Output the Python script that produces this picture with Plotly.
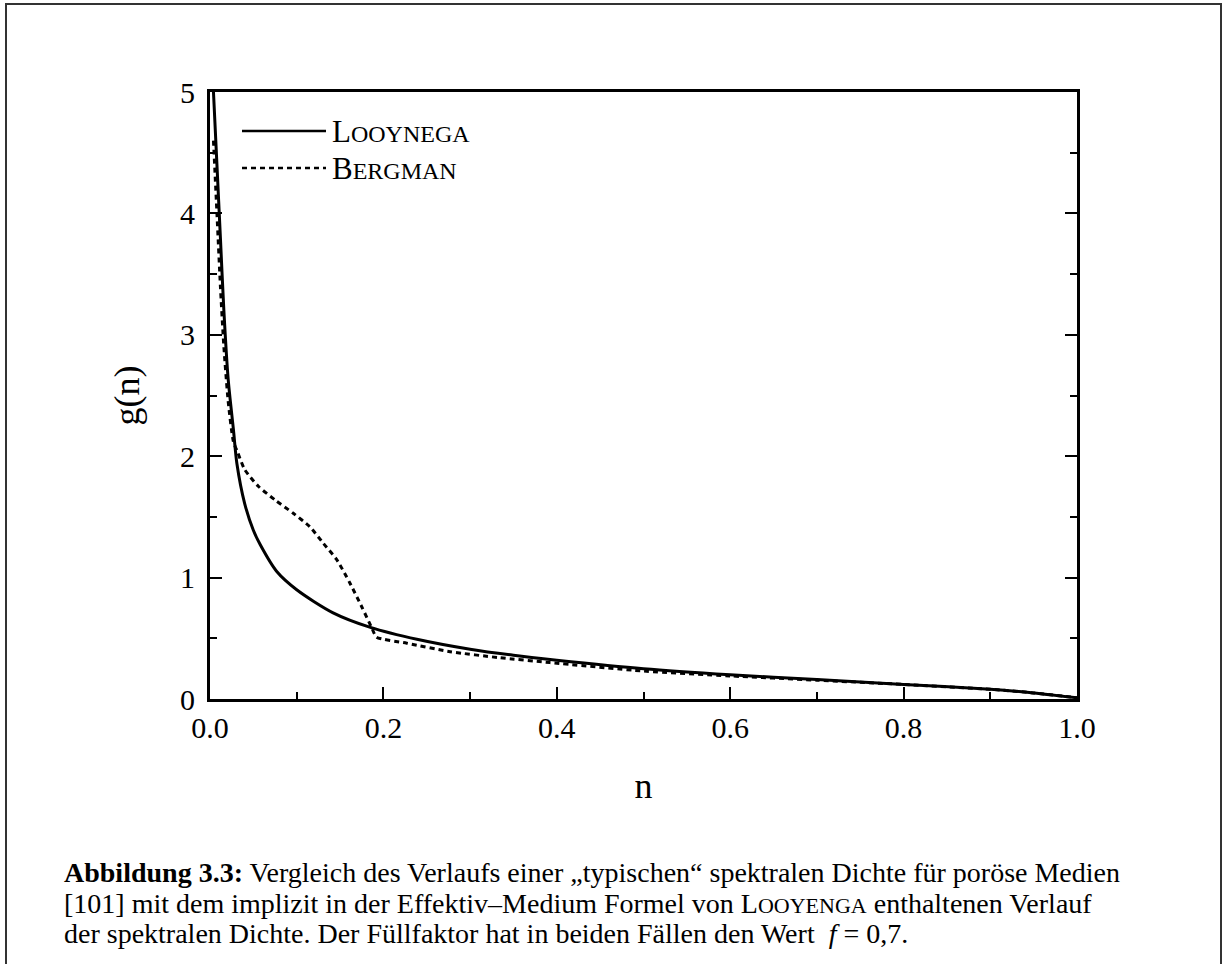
import plotly.graph_objects as go

# Data
n_looyenga = [0.004, 0.008, 0.012, 0.016, 0.021, 0.027, 0.031, 0.040, 0.050, 0.058,
              0.077, 0.100, 0.142, 0.185, 0.240, 0.300, 0.350, 0.400, 0.500, 0.600,
              0.700, 0.800, 0.900, 0.950, 1.000]
g_looyenga = [5.00, 4.40, 3.80, 3.20, 2.63, 2.22, 1.94, 1.61, 1.39, 1.27,
              1.05, 0.90, 0.71, 0.59, 0.49, 0.41, 0.36, 0.32, 0.25, 0.20,
              0.16, 0.12, 0.08, 0.05, 0.01]

n_bergman = [0.004, 0.008, 0.012, 0.016, 0.021, 0.027, 0.032, 0.040, 0.056, 0.075,
             0.096, 0.115, 0.131, 0.146, 0.161, 0.175, 0.187, 0.192, 0.227, 0.277,
             0.334, 0.392, 0.500, 0.600, 0.700, 0.800, 0.900, 0.950, 1.000]
g_bergman = [4.60, 4.00, 3.40, 2.90, 2.45, 2.12, 2.03, 1.89, 1.75, 1.64,
             1.53, 1.42, 1.28, 1.15, 0.96, 0.76, 0.58, 0.51, 0.46, 0.39,
             0.34, 0.30, 0.23, 0.19, 0.155, 0.12, 0.08, 0.05, 0.01]

x_ticks = [0.0, 0.2, 0.4, 0.6, 0.8, 1.0]
x_ticklabels = ["0.0", "0.2", "0.4", "0.6", "0.8", "1.0"]
y_ticks = [0, 1, 2, 3, 4, 5]
y_ticklabels = ["0", "1", "2", "3", "4", "5"]

legend_names = ["L<span style='font-size:24px'>OOYNEGA</span>",
                "B<span style='font-size:24px'>ERGMAN</span>"]

caption_lines = [
    "<b>Abbildung 3.3:</b> Vergleich des Verlaufs einer „typischen“ spektralen Dichte für poröse Medien",
    "[101] mit dem implizit in der Effektiv–Medium Formel von L<span style='font-size:22px'>OOYENGA</span> enthaltenen Verlauf",
    "der spektralen Dichte. Der Füllfaktor hat in beiden Fällen den Wert  <i>f</i> = 0,7.",
]

FONT = "Liberation Serif, Times New Roman, serif"
W, H = 1223, 964
ML, MR, MT, MB = 210, 146, 92, 265
PW, PH = W - ML - MR, H - MT - MB

def px2paper_x(px):
    return (px - ML) / PW

def px2paper_y(py):
    return (H - MB - py) / PH

fig = go.Figure()
fig.add_trace(go.Scatter(x=n_looyenga, y=g_looyenga, mode="lines",
                         line=dict(color="black", width=3, shape="spline", smoothing=0.8),
                         showlegend=False))
fig.add_trace(go.Scatter(x=n_bergman, y=g_bergman, mode="lines",
                         line=dict(color="black", width=3, dash="5px,4px", shape="spline", smoothing=0.6),
                         showlegend=False))

# manual legend
leg_rows = [(px2paper_y(131), "solid"), (px2paper_y(168), "5px,4px")]
for (yy, dash), name in zip(leg_rows, legend_names):
    fig.add_shape(type="line", xref="paper", yref="paper",
                  x0=px2paper_x(242), x1=px2paper_x(326), y0=yy, y1=yy,
                  line=dict(color="black", width=2.5, dash=dash))
    fig.add_annotation(xref="paper", yref="paper", x=px2paper_x(330), y=yy,
                       xanchor="left", yanchor="middle", showarrow=False,
                       text=name, font=dict(family=FONT, size=31, color="black"))

# outer frame
fig.add_shape(type="rect", xref="paper", yref="paper",
              x0=px2paper_x(6), x1=px2paper_x(1221), y0=px2paper_y(975), y1=px2paper_y(4),
              line=dict(color="#333", width=2), layer="below")

# caption
for i, (line, py) in enumerate(zip(caption_lines, [872, 903, 933])):
    fig.add_annotation(xref="paper", yref="paper", x=px2paper_x(62), y=px2paper_y(py),
                       xanchor="left", yanchor="middle", showarrow=False, align="left",
                       text=line, font=dict(family=FONT, size=28, color="black"))

fig.update_layout(
    width=W, height=H,
    margin=dict(l=ML, r=MR, t=MT, b=MB),
    paper_bgcolor="white", plot_bgcolor="white",
    font=dict(family=FONT, color="black"),
    showlegend=False,
)
fig.update_xaxes(range=[0, 1], tickvals=x_ticks, ticktext=x_ticklabels,
                 ticks="inside", ticklen=12, tickwidth=2, tickcolor="black",
                 minor=dict(dtick=0.1, ticks="inside", ticklen=7, tickwidth=2, tickcolor="black"),
                 showline=True, linecolor="black", linewidth=3, mirror=True,
                 showgrid=False, zeroline=False,
                 tickfont=dict(family=FONT, size=30),
                 title=dict(text="n", font=dict(family=FONT, size=36), standoff=30))
fig.update_yaxes(range=[0, 5], tickvals=y_ticks, ticktext=y_ticklabels,
                 ticks="inside", ticklen=12, tickwidth=2, tickcolor="black",
                 minor=dict(dtick=0.5, ticks="inside", ticklen=7, tickwidth=2, tickcolor="black"),
                 showline=True, linecolor="black", linewidth=3, mirror="ticks",
                 showgrid=False, zeroline=False,
                 tickfont=dict(family=FONT, size=30), ticklabelstandoff=6,
                 title=dict(text="g(n)", font=dict(family=FONT, size=36), standoff=30))

fig.write_html("out.html")
